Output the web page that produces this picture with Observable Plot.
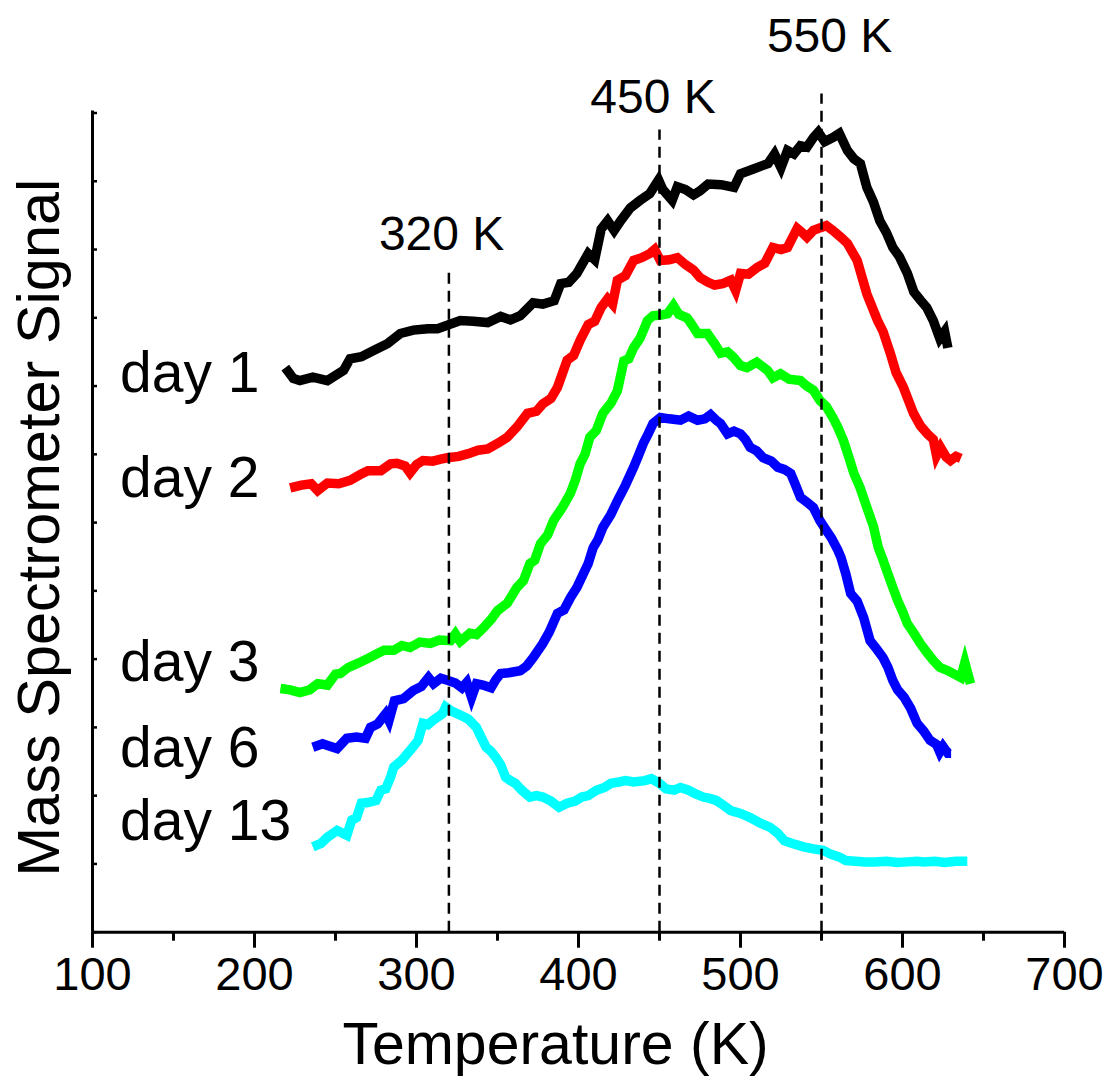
<!DOCTYPE html>
<html>
<head>
<meta charset="utf-8">
<script src="https://cdn.jsdelivr.net/npm/d3@7"></script>
<script src="https://cdn.jsdelivr.net/npm/@observablehq/plot@0.6"></script>
<style>
  html, body { margin: 0; padding: 0; background: #fff; }
</style>
</head>
<body>
<div id="chart"></div>
<script>
// ---- data (temperature in K, signal in arbitrary units) ----
const days = ["day 1", "day 2", "day 3", "day 6", "day 13"];
const colors = ["#000000", "#ff0000", "#00ff00", "#0000ff", "#00ffff"];

const day1 = [[219,8.27],[224,8.11],[228,8.08],[236,8.13],[245,8.08],[255,8.23],[259,8.40],[266,8.43],[273.5,8.52],[282,8.62],[290,8.77],[298,8.82],[307,8.84],[313,8.84],[319,8.89],[327,8.96],[335,8.95],[344,8.93],[352,9.02],[358,8.97],[364,9.03],[372,9.22],[378,9.20],[385,9.25],[389,9.50],[394,9.52],[399,9.65],[406,9.94],[410,9.85],[414,10.30],[418,10.42],[422,10.28],[426,10.42],[432,10.61],[438,10.72],[444,10.82],[449.4,11.02],[452,10.88],[457.8,10.72],[461,10.92],[466,10.88],[471,10.80],[475,10.86],[480,10.96],[488,10.95],[496,10.91],[500,11.11],[508,11.18],[517,11.26],[521,11.40],[525,11.20],[529,11.45],[533,11.40],[537,11.52],[541,11.50],[545,11.64],[548,11.72],[552,11.58],[557,11.64],[561,11.70],[566,11.45],[570,11.33],[574,11.26],[578,10.91],[582,10.70],[586,10.42],[590,10.25],[594,10.03],[598,9.90],[603,9.65],[607,9.38],[611,9.26],[615,9.15],[619,8.96],[623,8.70],[626,8.80],[628,8.56]];

const day2 = [[222,6.51],[229,6.55],[235,6.57],[239,6.47],[245,6.58],[252,6.57],[259,6.62],[265,6.70],[270,6.76],[278,6.76],[284,6.86],[288,6.87],[293,6.83],[296,6.73],[300,6.85],[304,6.91],[310,6.90],[315,6.93],[319,6.95],[326,6.97],[332,7.01],[338,7.06],[344,7.08],[350,7.16],[356,7.25],[362,7.40],[368.5,7.60],[374,7.63],[378,7.74],[383,7.82],[387,7.98],[393,8.38],[397,8.45],[401,8.67],[406,8.90],[410,8.95],[414,9.15],[418,9.28],[421,9.20],[424,9.55],[429,9.62],[434,9.84],[439,9.88],[444,9.94],[447,10.00],[450.5,9.84],[456,9.85],[461,9.88],[466,9.78],[471,9.70],[475,9.59],[480,9.52],[484,9.48],[489,9.50],[494,9.55],[497,9.40],[500,9.65],[505,9.64],[510.5,9.74],[515,9.80],[520,10.03],[525,10.00],[529,10.03],[535,10.31],[538,10.25],[541,10.18],[545,10.28],[549.4,10.32],[553,10.35],[557,10.28],[562,10.18],[566,10.09],[572,9.84],[578,9.35],[584.6,8.96],[588,8.80],[592.6,8.47],[596,8.20],[600.6,7.98],[606.8,7.60],[611,7.42],[615.4,7.30],[619,7.22],[621,6.98],[623.5,7.10],[627,6.96],[629.6,6.91],[633,6.97],[636,6.94]];

const day3 = [[216,3.57],[222,3.55],[228,3.51],[234,3.55],[239,3.64],[245,3.62],[250,3.78],[253,3.79],[258,3.88],[264,3.94],[270,4.01],[275,4.07],[280,4.13],[286,4.13],[291,4.20],[296,4.17],[302,4.25],[308.6,4.23],[314,4.28],[321,4.27],[324,4.37],[327,4.26],[333,4.38],[337,4.36],[341.4,4.46],[346,4.58],[350,4.71],[356,4.82],[362,5.05],[366,5.15],[370,5.40],[373,5.45],[376.5,5.69],[381,5.82],[384.6,6.03],[390,6.22],[395,6.43],[398,6.62],[401,6.86],[404,7.00],[407,7.25],[411,7.35],[415,7.60],[420,7.75],[424,7.93],[428,8.37],[431,8.40],[434,8.56],[438,8.70],[442.6,8.96],[446,9.03],[451,9.04],[455,9.06],[458.6,9.18],[462,9.05],[467,9.00],[470,8.90],[473.5,8.77],[479.6,8.77],[484,8.62],[487.7,8.48],[492,8.50],[495.7,8.42],[500,8.30],[504,8.27],[510,8.35],[516.7,8.23],[520,8.12],[524.7,8.18],[530,8.10],[537,8.08],[541,8.00],[545,7.94],[549,7.79],[553,7.70],[557,7.54],[560,7.40],[563.6,7.20],[567,6.95],[570,6.72],[574,6.50],[578,6.22],[582,5.95],[585,5.64],[588,5.45],[591,5.25],[594,5.05],[597,4.86],[600,4.70],[603,4.52],[607,4.38],[611,4.23],[615,4.10],[619,3.98],[623,3.88],[628,3.83],[632,3.78],[636,3.73],[638.5,3.95],[642,3.64]];

const day6 = [[236,2.71],[242,2.76],[247,2.72],[251,2.69],[257,2.84],[263,2.86],[268.5,2.84],[271.6,3.00],[276,3.05],[281,3.20],[283,3.10],[286.4,3.39],[292,3.42],[298,3.54],[303,3.60],[307.4,3.73],[310.5,3.64],[315,3.72],[319,3.69],[324,3.65],[328,3.58],[331,3.66],[334,3.44],[337,3.64],[341,3.62],[346,3.58],[349,3.70],[352,3.79],[357,3.80],[364,3.83],[368,3.90],[372,4.02],[378,4.23],[382,4.40],[387,4.67],[391,4.72],[395,4.90],[399,5.05],[403,5.25],[406,5.40],[409,5.63],[412,5.75],[415,5.93],[420,6.12],[424,6.32],[429,6.55],[434,6.81],[437,6.98],[440,7.16],[443,7.30],[446,7.45],[450.6,7.54],[456,7.52],[463,7.50],[468,7.56],[473.5,7.50],[478,7.52],[481.5,7.58],[485,7.50],[487.7,7.45],[492,7.30],[496,7.34],[500,7.30],[503,7.22],[506,7.10],[510,7.05],[514,6.95],[519,6.90],[523,6.81],[527,6.78],[531,6.72],[534,6.55],[537,6.37],[541,6.30],[545,6.22],[549,6.03],[552,5.92],[556,5.78],[560,5.60],[562,5.49],[565,5.25],[568,4.96],[572,4.85],[576,4.61],[580,4.27],[584,4.15],[588,4.02],[591,3.88],[594,3.69],[597,3.55],[601,3.44],[605,3.28],[609,3.06],[613,2.95],[617,2.81],[621,2.75],[623,2.64],[625,2.72],[628,2.62],[630,2.62]];

const day13 = [[236,1.25],[241,1.30],[245,1.39],[251,1.49],[257,1.42],[260,1.64],[263,1.68],[266,1.89],[270,1.90],[275,1.93],[278,2.08],[281,2.10],[284,2.27],[286,2.42],[291,2.52],[296,2.66],[301,2.81],[304,3.06],[307,3.04],[310,3.10],[313,3.15],[316,3.20],[318,3.30],[321,3.25],[325,3.20],[328,3.17],[332,3.12],[337,3.00],[340,2.85],[343,2.71],[346,2.65],[349,2.56],[352,2.45],[355,2.27],[358,2.22],[361,2.18],[365,2.08],[370,1.98],[374,2.00],[378,1.98],[383,1.92],[388,1.83],[393,1.89],[398,1.92],[402,1.98],[406,2.00],[411,2.08],[416,2.12],[420,2.18],[425,2.20],[429,2.22],[434,2.20],[441,2.22],[445,2.25],[450,2.18],[454,2.10],[459,2.08],[463,2.12],[468,2.08],[472,2.03],[477,1.98],[481,1.96],[485,1.93],[490,1.85],[494,1.78],[500,1.74],[506,1.68],[512,1.60],[518,1.54],[523,1.45],[527,1.34],[532,1.30],[539,1.25],[545,1.22],[551,1.20],[556,1.14],[561,1.10],[565,1.05],[571,1.04],[577,1.03],[583,1.03],[590,1.04],[597,1.02],[603,1.03],[609,1.04],[613,1.03],[620,1.04],[626,1.02],[633,1.04],[640,1.04]];

const series = [day1, day2, day3, day6, day13];

// annotations (temperatures of the marked peaks)
const peakT = [320, 450, 550];
const peakLabels = ["320 K", "450 K", "550 K"];
const peakLineTop = [9.72, 11.75, 12.28];
const peakLabelT = [315.5, 446, 555];
const peakLabelY = [10.0, 12.0, 12.89];

// day label anchor (signal units) and temperature of left edge
const dayLabelT = 117;
const dayLabelY = [7.92, 6.37, 3.68, 2.42, 1.35];

// ticks
const xTicks = [100, 200, 300, 400, 500, 600, 700];
const xMinor = [150, 250, 350, 450, 550, 650];
const yTicks = d3.range(0, 13);

// ---- build tables ----
const rows = [];
series.forEach((s, i) => s.forEach(([T, S]) => rows.push({day: days[i], T, S})));
const annot = peakT.map((T, i) => ({T, top: peakLineTop[i], label: peakLabels[i], lx: peakLabelT[i], ly: peakLabelY[i]}));
const dayRows = days.map((d, i) => ({day: d, y: dayLabelY[i]}));

const font = "'Liberation Sans', Arial, Helvetica, sans-serif";

const chart = Plot.plot({
  width: 1111,
  height: 1080,
  marginLeft: 92,
  marginRight: 47,
  marginTop: 112.5,
  marginBottom: 148.3,
  x: {domain: [100, 700]},
  y: {domain: [0, 12]},
  color: {domain: days, range: colors},
  style: {fontFamily: font, background: "#fff", color: "#000", overflow: "visible"},
  marks: [
    Plot.line(rows, {x: "T", y: "S", z: "day", stroke: "day", strokeWidth: 9.5, strokeLinejoin: "miter", strokeLinecap: "butt", strokeMiterlimit: 4}),
    Plot.ruleX(annot, {x: "T", y1: 0, y2: "top", stroke: "#000", strokeWidth: 2.5, strokeDasharray: "11,7"}),
    Plot.ruleY([0], {stroke: "#000", strokeWidth: 3}),
    Plot.ruleX([100], {y1: 0, y2: 12.03, stroke: "#000", strokeWidth: 3}),
    Plot.axisX({ticks: xTicks, tickSize: 16, tickPadding: 8, fontSize: 47, strokeWidth: 3, label: null, fontFamily: font}),
    Plot.axisX({ticks: xMinor, tickSize: 9, strokeWidth: 3, tickFormat: () => "", label: null}),
    Plot.axisY({ticks: yTicks, tickSize: 5, dx: 5, strokeWidth: 2.5, tickFormat: () => "", label: null}),
    Plot.text(annot, {x: "lx", y: "ly", text: "label", fontSize: 48, lineAnchor: "bottom", fill: "#000", fontFamily: font}),
    Plot.text(dayRows, {x: () => dayLabelT, y: "y", text: "day", fontSize: 57, textAnchor: "start", lineAnchor: "bottom", fill: "#000", fontFamily: font}),
    Plot.text(["Temperature (K)"], {frameAnchor: "bottom", text: d => d, dx: -23, dy: 132, lineAnchor: "bottom", fontSize: 59, fill: "#000", fontFamily: font}),
    Plot.text(["Mass Spectrometer Signal"], {frameAnchor: "left", text: d => d, rotate: -90, textAnchor: "middle", dx: -34, dy: 5, lineAnchor: "bottom", fontSize: 59.5, fill: "#000", fontFamily: font})
  ]
});
document.getElementById("chart").appendChild(chart);
</script>
</body>
</html>
